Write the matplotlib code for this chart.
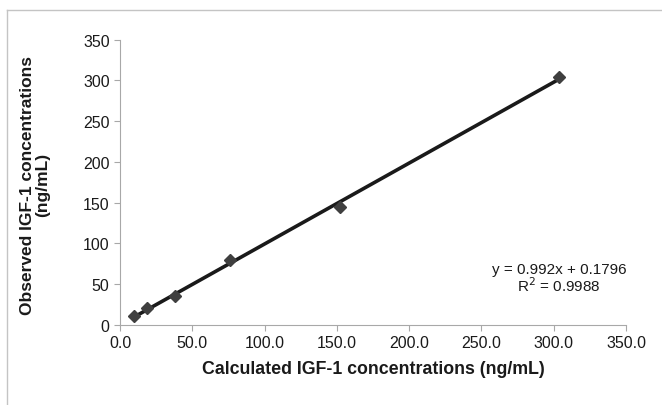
import matplotlib
matplotlib.use("Agg")
import matplotlib.pyplot as plt
from matplotlib.lines import Line2D
import numpy as np

calculated = [9.5, 19.0, 38.0, 76.0, 152.0, 304.0]
observed = [11.0, 21.0, 35.0, 80.0, 145.0, 304.0]
slope = 0.992
intercept = 0.1796
x_ticks = [0, 50, 100, 150, 200, 250, 300, 350]
y_ticks = [0, 50, 100, 150, 200, 250, 300, 350]

plt.rcParams["font.family"] = ["Liberation Sans", "DejaVu Sans"]

fig = plt.figure(figsize=(6.62, 4.06), dpi=100)
ax = fig.add_axes([0.1813, 0.197, 0.7643, 0.703])

# partial outer frame (top and left edges)
fig.add_artist(Line2D([7 / 662, 1], [1 - 11 / 406, 1 - 11 / 406],
                      transform=fig.transFigure, color="#c4c4c4", lw=1))
fig.add_artist(Line2D([7 / 662, 7 / 662], [0, 1 - 11 / 406],
                      transform=fig.transFigure, color="#c4c4c4", lw=1))

xs = np.array([min(calculated), max(calculated)])
ax.plot(xs, slope * xs + intercept, color="#1a1a1a", lw=2.6, zorder=2)
ax.plot(calculated, observed, "D", color="#3f3f3f", ms=6.5, zorder=3)

ax.set_xlim(0, 350)
ax.set_ylim(0, 350)
ax.set_xticks(x_ticks)
ax.set_xticklabels([f"{t:.1f}" for t in x_ticks])
ax.set_yticks(y_ticks)
for s in ["top", "right"]:
    ax.spines[s].set_visible(False)
for s in ["left", "bottom"]:
    ax.spines[s].set_color("#a8a8a8")
ax.tick_params(colors="#a8a8a8", labelcolor="#1a1a1a", labelsize=11.5, length=4)

ax.set_xlabel("Calculated IGF-1 concentrations (ng/mL)", fontsize=12.75,
              fontweight="bold", color="#1a1a1a", labelpad=7)
fig.text(0.053, 0.544, "Observed IGF-1 concentrations\n(ng/mL)", rotation=90,
         ha="center", va="center", fontsize=12.5, fontweight="bold",
         color="#1a1a1a", linespacing=1.05)

ax.text(0.868, 0.165, "y = 0.992x + 0.1796\nR$^2$ = 0.9988", transform=ax.transAxes,
        ha="center", va="center", fontsize=11, color="#1a1a1a", linespacing=1.0)

fig.savefig("out.png", dpi=100)
